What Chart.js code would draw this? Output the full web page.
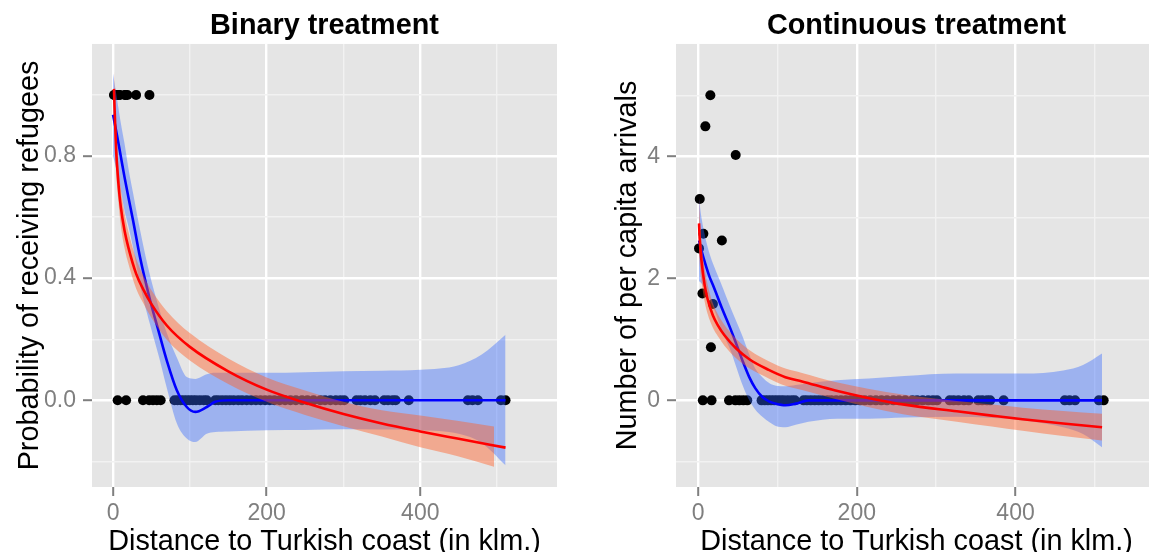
<!DOCTYPE html>
<html>
<head>
<meta charset="utf-8">
<script src="https://cdn.jsdelivr.net/npm/chart.js@4/dist/chart.umd.min.js"></script>
<style>
  html, body { margin: 0; background: #fff; overflow: hidden; width: 1149px; height: 552px; }
  canvas { position: absolute; top: 0; }
  #c1 { left: 0; }
  #c2 { left: 574px; }
</style>
</head>
<body>
<canvas id="c1" width="574" height="552"></canvas>
<canvas id="c2" width="588" height="552"></canvas>
<script>
// municipalities that received refugees (distance in km, arrivals per capita)
const treatedDist = [1.2, 2.1, 5.5, 6.7, 9.2, 15.5, 16.2, 18.7, 30, 47.4];
const treatedBinary = [1, 1, 1, 1, 1, 1, 1, 1, 1, 1];
const treatedArrivals = [2.49, 3.30, 1.75, 2.73, 4.49, 5.0, 0.87, 1.58, 2.62, 4.02];

// municipalities with no arrivals
const controlDist = [6, 17, 39, 47, 52, 57, 62, 80, 84, 88, 92, 96, 100, 104, 108, 113, 118, 122,
  133, 137, 142, 147, 152, 157, 163, 168, 174, 180, 186, 192, 198, 204, 210, 217, 224, 231, 238,
  246, 253, 261, 270, 276, 283, 290, 296, 301, 317, 322, 328, 335, 341, 353, 358, 364, 368, 385,
  462, 468, 475, 505, 511];
const controlValue = controlDist.map(() => 0);

// binary panel: log fit (red) and loess (blue)
const binLogX  = [1.2, 2, 4, 7, 10, 15, 20, 30, 40, 50, 70, 100, 150, 200, 250, 300, 350, 400, 450, 511];
const binLogY  = [1.02, 0.955, 0.82, 0.71, 0.635, 0.555, 0.50, 0.415, 0.36, 0.315, 0.245, 0.175, 0.095, 0.035, -0.008, -0.045, -0.076, -0.102, -0.126, -0.155];
const binBandX = [1.2, 2, 4, 7, 10, 15, 20, 30, 40, 50, 70, 100, 150, 200, 250, 300, 350, 400, 450, 496];
const binBandHi = [1.08, 1.02, 0.89, 0.77, 0.695, 0.612, 0.553, 0.464, 0.405, 0.36, 0.292, 0.22, 0.137, 0.075, 0.032, -0.005, -0.033, -0.05, -0.068, -0.086];
const binBandLo = [0.96, 0.89, 0.75, 0.65, 0.575, 0.498, 0.447, 0.366, 0.315, 0.27, 0.198, 0.13, 0.053, -0.005, -0.048, -0.085, -0.119, -0.154, -0.184, -0.218];

const binLoessX  = [0, 5, 10, 15, 20, 26, 35, 48, 60, 70, 83, 96, 107, 122, 133, 150, 200, 250, 300, 350, 400, 450, 480, 511];
const binLoessY  = [0.935, 0.87, 0.80, 0.73, 0.665, 0.59, 0.47, 0.33, 0.22, 0.13, 0.033, -0.022, -0.038, -0.022, -0.005, 0, 0, 0, 0, 0, 0, 0, 0, 0];
const binLoessHi = [1.07, 0.99, 0.91, 0.84, 0.76, 0.68, 0.56, 0.41, 0.30, 0.22, 0.14, 0.076, 0.07, 0.085, 0.09, 0.09, 0.09, 0.092, 0.095, 0.097, 0.10, 0.115, 0.15, 0.215];
const binLoessLo = [0.80, 0.75, 0.69, 0.62, 0.57, 0.50, 0.38, 0.25, 0.14, 0.04, -0.075, -0.125, -0.137, -0.11, -0.104, -0.102, -0.098, -0.097, -0.095, -0.096, -0.098, -0.11, -0.14, -0.213];

// continuous panel
const conLogX  = [1.2, 2, 4.2, 8.4, 12, 18.7, 25, 33, 48, 65, 89, 110, 131, 173, 214, 260, 326, 370, 409, 460, 509];
const conLogY  = [2.9, 2.66, 2.3, 1.88, 1.66, 1.39, 1.23, 1.07, 0.85, 0.67, 0.5, 0.38, 0.31, 0.16, 0.04, -0.07, -0.18, -0.25, -0.31, -0.38, -0.44];
const conBandHi = [3.35, 3.06, 2.63, 2.15, 1.9, 1.59, 1.41, 1.24, 1.01, 0.82, 0.64, 0.52, 0.45, 0.30, 0.19, 0.09, -0.01, -0.07, -0.12, -0.175, -0.22];
const conBandLo = [2.45, 2.26, 1.97, 1.61, 1.42, 1.19, 1.05, 0.90, 0.69, 0.52, 0.36, 0.24, 0.17, 0.02, -0.11, -0.23, -0.35, -0.43, -0.50, -0.585, -0.66];

const conLoessX  = [1.2, 4.2, 10, 14.6, 20, 31, 40, 48, 56, 64.5, 72, 81, 90, 98, 110, 123, 139, 175, 215, 260, 325, 410, 460, 485, 509];
const conLoessY  = [2.62, 2.46, 2.2, 2.02, 1.85, 1.48, 1.2, 0.93, 0.65, 0.38, 0.2, 0.054, -0.02, -0.054, -0.08, -0.054, 0, 0, 0, 0, 0, 0, 0, 0, 0];
const conLoessHi = [3.3, 3.0, 2.62, 2.4, 2.2, 1.85, 1.55, 1.3, 1.05, 0.75, 0.52, 0.38, 0.28, 0.24, 0.23, 0.25, 0.28, 0.33, 0.36, 0.4, 0.44, 0.44, 0.49, 0.58, 0.77];
const conLoessLo = [1.95, 1.92, 1.8, 1.65, 1.5, 1.1, 0.85, 0.55, 0.25, 0.0, -0.15, -0.27, -0.36, -0.42, -0.44, -0.4, -0.35, -0.3, -0.3, -0.28, -0.27, -0.33, -0.44, -0.55, -0.77];

// axes
const xTicks = [0, 100, 200, 300, 400, 500];
const xTickLabels = ['0', '', '200', '', '400', ''];
const binYTicks = [-0.2, 0, 0.2, 0.4, 0.6, 0.8, 1.0];
const binYLabels = ['', '0.0', '', '0.4', '', '0.8', ''];
const conYTicks = [-1, 0, 1, 2, 3, 4, 5];
const conYLabels = ['', '0', '', '2', '', '4', ''];

const FONT = '"Liberation Sans", Arial, Helvetica, sans-serif';

const panelBg = {
  id: 'panelBg',
  beforeDraw(chart) {
    const {ctx, chartArea: a} = chart;
    ctx.save();
    ctx.fillStyle = '#E5E5E5';
    ctx.fillRect(a.left, a.top, a.width, a.height);
    ctx.restore();
  }
};

const xy = (xs, ys) => xs.map((x, i) => ({x, y: ys[i]}));

function gridOpts(labels) {
  return {
    color: c => labels[c.index] ? '#FFFFFF' : '#F2F2F2',
    lineWidth: c => labels[c.index] ? 2.4 : 1.4,
    tickColor: c => labels[c.index] ? '#7F7F7F' : 'rgba(0,0,0,0)',
    tickWidth: 2,
    tickLength: 9,
    drawTicks: true
  };
}

function panel(id, o) {
  const band = {borderColor: 'rgba(0,0,0,0)', borderWidth: 0, pointRadius: 0, cubicInterpolationMode: 'monotone'};
  new Chart(document.getElementById(id), {
    type: 'line',
    data: {
      datasets: [
        {data: xy(o.logX, o.logY), borderColor: '#FF0000', borderWidth: 2.6, pointRadius: 0, fill: false, order: 0, cubicInterpolationMode: 'monotone'},
        {...band, data: xy(o.bandX, o.bandHi), fill: {target: 2}, backgroundColor: 'rgba(255,95,40,0.45)', order: 1},
        {...band, data: xy(o.bandX, o.bandLo), fill: false, order: 2},
        {data: xy(o.loessX, o.loessY), borderColor: '#0000FF', borderWidth: 2.6, pointRadius: 0, fill: false, order: 3, cubicInterpolationMode: 'monotone'},
        {...band, data: xy(o.loessX, o.loessHi), fill: {target: 5}, backgroundColor: 'rgba(51,102,255,0.4)', order: 4},
        {...band, data: xy(o.loessX, o.loessLo), fill: false, order: 5},
        {data: xy(treatedDist.concat(controlDist), o.treatedY.concat(controlValue)), showLine: false,
         pointRadius: 5, pointBackgroundColor: '#000', pointBorderWidth: 0, order: 6}
      ]
    },
    options: {
      responsive: false,
      animation: false,
      layout: {padding: {left: 0, right: o.padRight, top: 0, bottom: 0}},
      plugins: {
        legend: {display: false},
        tooltip: {enabled: false},
        title: {
          display: true, text: o.title, color: '#000', fullSize: false,
          font: {family: FONT, size: 28.8, weight: 'bold', lineHeight: 1.2},
          padding: {top: 8.5, bottom: 0.9}
        }
      },
      scales: {
        x: {
          type: 'linear', min: o.xMin, max: o.xMax,
          afterBuildTicks: s => { s.ticks = xTicks.map(v => ({value: v})); },
          afterFit: s => { s.height = 65; },
          grid: gridOpts(xTickLabels),
          border: {display: false},
          ticks: {color: '#7F7F7F', font: {family: FONT, size: 23}, padding: 4, autoSkip: false, maxRotation: 0,
                  callback: (v, i) => xTickLabels[i]},
          title: {display: true, text: 'Distance to Turkish coast (in klm.)', color: '#000',
                  font: {family: FONT, size: 28.8, lineHeight: 0.8}, padding: {top: 0, bottom: -2}}
        },
        y: {
          type: 'linear', min: o.yMin, max: o.yMax,
          afterBuildTicks: s => { s.ticks = o.yTicks.map(v => ({value: v})); },
          afterFit: s => { s.width = o.yWidth; },
          grid: gridOpts(o.yLabels),
          border: {display: false},
          ticks: {color: '#7F7F7F', font: {family: FONT, size: 23}, padding: 7, autoSkip: false,
                  callback: (v, i) => o.yLabels[i]},
          title: {display: true, text: o.yTitle, color: '#000',
                  font: {family: FONT, size: 28.8, lineHeight: 0.8}, padding: {top: o.yTitlePad, bottom: 0}}
        }
      }
    },
    plugins: [panelBg]
  });
}

panel('c1', {
  title: 'Binary treatment', yTitle: 'Probability of receiving refugees',
  xMin: -27.4, xMax: 578, yMin: -0.284, yMax: 1.167,
  yTicks: binYTicks, yLabels: binYLabels, yWidth: 92, yTitlePad: 18.6, padRight: 17,
  treatedY: treatedBinary,
  logX: binLogX, logY: binLogY, bandX: binBandX, bandHi: binBandHi, bandLo: binBandLo,
  loessX: binLoessX, loessY: binLoessY, loessHi: binLoessHi, loessLo: binLoessLo
});

panel('c2', {
  title: 'Continuous treatment', yTitle: 'Number of per capita arrivals',
  xMin: -27.8, xMax: 578.2, yMin: -1.42, yMax: 5.84,
  yTicks: conYTicks, yLabels: conYLabels, yWidth: 102, yTitlePad: 42.6, padRight: 0,
  treatedY: treatedArrivals,
  logX: conLogX, logY: conLogY, bandX: conLogX, bandHi: conBandHi, bandLo: conBandLo,
  loessX: conLoessX, loessY: conLoessY, loessHi: conLoessHi, loessLo: conLoessLo
});
</script>
</body>
</html>
